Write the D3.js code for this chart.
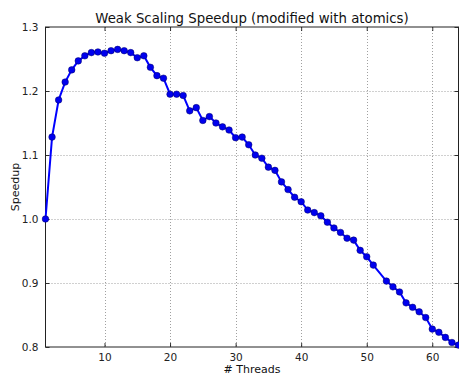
<!DOCTYPE html>
<html>
<head>
<meta charset="utf-8">
<script src="https://cdn.jsdelivr.net/npm/d3@7"></script>
<style>
html,body{margin:0;padding:0;background:#fff;}
svg{display:block;font-family:"DejaVu Sans",sans-serif;}
</style>
</head>
<body>
<svg id="chart" width="459" height="376"></svg>
<script>
const threads = [1,2,3,4,5,6,7,8,9,10,11,12,13,14,15,16,17,18,19,20,21,22,23,24,25,26,27,28,29,30,31,32,33,34,35,36,37,38,39,40,41,42,43,44,45,46,47,48,49,50,51,53,54,55,56,57,58,59,60,61,62,63,64];
const speedup = [1.000,1.128,1.186,1.214,1.233,1.247,1.255,1.260,1.261,1.259,1.263,1.265,1.263,1.260,1.252,1.255,1.237,1.224,1.220,1.195,1.195,1.193,1.169,1.174,1.154,1.160,1.150,1.144,1.139,1.127,1.128,1.116,1.100,1.095,1.081,1.076,1.058,1.046,1.034,1.027,1.014,1.010,1.005,0.995,0.986,0.979,0.970,0.967,0.951,0.941,0.928,0.903,0.894,0.886,0.869,0.862,0.855,0.846,0.828,0.823,0.815,0.807,0.803];
const xTicks = [10,20,30,40,50,60];
const yTicks = [0.8,0.9,1.0,1.1,1.2,1.3];
const title = "Weak Scaling Speedup (modified with atomics)";
const xLabel = "# Threads";
const yLabel = "Speedup";

const svg = d3.select("#chart");
const L = 45.5, R = 458.5, T = 27, B = 347;
const x = d3.scaleLinear().domain([1,64]).range([L,R]);
const y = d3.scaleLinear().domain([0.8,1.3]).range([B,T]);

// grid
const grid = svg.append("g");
grid.selectAll(".gx").data(xTicks).enter().append("line")
  .attr("x1",d=>Math.round(x(d))+0.5).attr("x2",d=>Math.round(x(d))+0.5)
  .attr("y1",T).attr("y2",B)
  .attr("stroke","#888").attr("stroke-width",0.8).attr("stroke-dasharray","1,2");
grid.selectAll(".gy").data(yTicks.slice(1,-1)).enter().append("line")
  .attr("y1",d=>Math.round(y(d))+0.5).attr("y2",d=>Math.round(y(d))+0.5)
  .attr("x1",L).attr("x2",R)
  .attr("stroke","#888").attr("stroke-width",0.8).attr("stroke-dasharray","1,2");

// axes (ticks inward)
const fmtY = d3.format(".1f");
const xAxisB = svg.append("g").attr("transform",`translate(0,${B})`)
  .call(d3.axisBottom(x).tickValues(xTicks).tickSizeInner(-4).tickSizeOuter(0).tickPadding(7));
const xAxisT = svg.append("g").attr("transform",`translate(0,${T})`)
  .call(d3.axisTop(x).tickValues(xTicks).tickSizeInner(-4).tickSizeOuter(0).tickFormat(""));
const yAxisL = svg.append("g").attr("transform",`translate(${L},0)`)
  .call(d3.axisLeft(y).tickValues(yTicks).tickSizeInner(-4).tickSizeOuter(0).tickPadding(7).tickFormat(fmtY));
const yAxisR = svg.append("g").attr("transform",`translate(${R},0)`)
  .call(d3.axisRight(y).tickValues(yTicks).tickSizeInner(-4).tickSizeOuter(0).tickFormat(""));
[xAxisB,xAxisT,yAxisL,yAxisR].forEach(g=>{
  g.select(".domain").remove();
  g.selectAll("line").attr("stroke","#000").attr("stroke-width",0.8);
  g.selectAll("text").attr("font-family","DejaVu Sans").attr("font-size",10.5).attr("fill","#222");
});

// frame
svg.append("rect").attr("x",L).attr("y",T).attr("width",R-L).attr("height",B-T)
  .attr("fill","none").attr("stroke","#222").attr("stroke-width",1);

// data
const pts = threads.map((t,i)=>[t,speedup[i]]);
svg.append("path").datum(pts)
  .attr("fill","none").attr("stroke","#0000ff").attr("stroke-width",2)
  .attr("d",d3.line().x(d=>x(d[0])).y(d=>y(d[1])));
svg.append("g").selectAll("circle").data(pts).enter().append("circle")
  .attr("cx",d=>x(d[0])).attr("cy",d=>y(d[1])).attr("r",3.3)
  .attr("fill","#0000ee").attr("stroke","#000066").attr("stroke-width",0.5);

// texts
svg.append("text").attr("x",(L+R)/2).attr("y",23).attr("text-anchor","middle")
  .attr("font-size",13.3).attr("fill","#111").text(title);
svg.append("text").attr("x",(L+R)/2).attr("y",373).attr("text-anchor","middle")
  .attr("font-size",11).attr("fill","#111").text(xLabel);
svg.append("text").attr("transform",`translate(19,${(T+B)/2}) rotate(-90)`).attr("text-anchor","middle")
  .attr("font-size",11).attr("fill","#111").text(yLabel);
</script>
</body>
</html>
